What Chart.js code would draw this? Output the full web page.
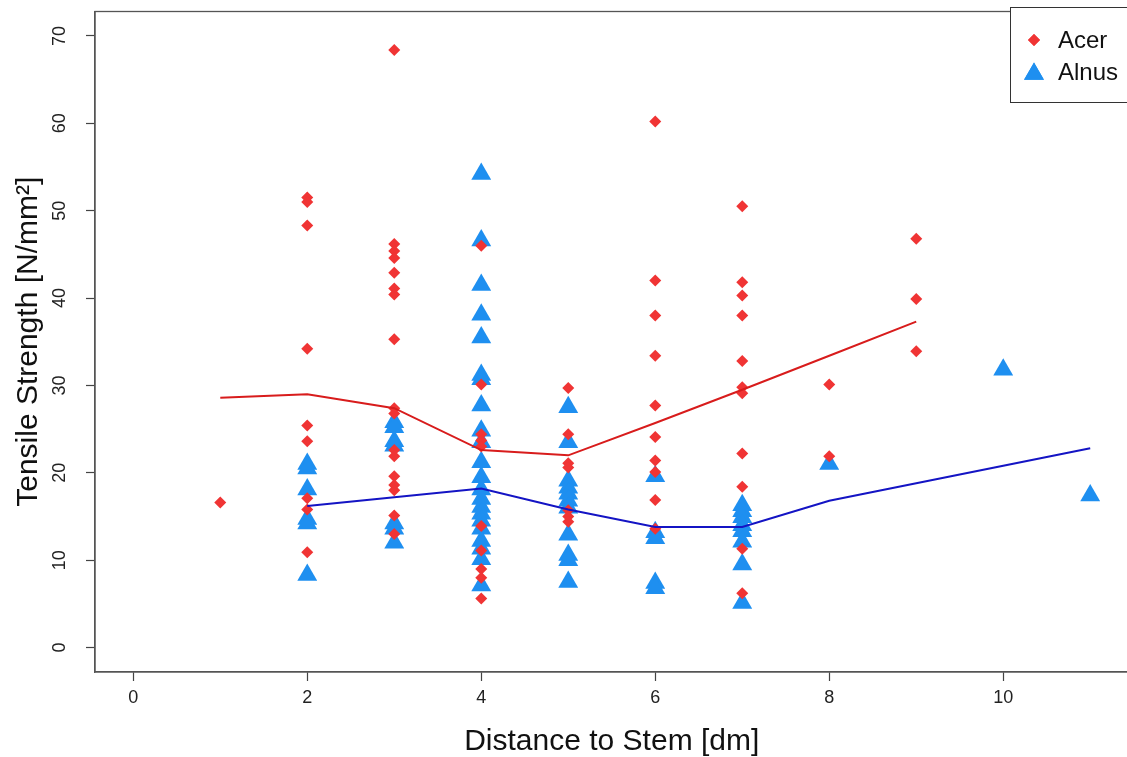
<!DOCTYPE html>
<html>
<head>
<meta charset="utf-8">
<script src="https://cdn.jsdelivr.net/npm/chart.js@4/dist/chart.umd.min.js"></script>
<style>
  html, body { margin: 0; padding: 0; background: #fff; overflow: hidden; }
</style>
</head>
<body>
<canvas id="plot" width="1140" height="757"></canvas>
<script>
// tick labels
var xTicks = [0, 2, 4, 6, 8, 10];
var yTicks = [0, 10, 20, 30, 40, 50, 60, 70];

// Acer samples: distance [dm] and strength [N/mm2]
var acerDist = [1,
  2, 2, 2, 2, 2, 2, 2, 2, 2,
  3, 3, 3, 3, 3, 3, 3, 3, 3, 3, 3, 3, 3, 3, 3, 3, 3,
  4, 4, 4, 4, 4, 4, 4, 4, 4, 4,
  5, 5, 5, 5, 5, 5, 5,
  6, 6, 6, 6, 6, 6, 6, 6, 6, 6,
  7, 7, 7, 7, 7, 7, 7, 7, 7, 7, 7,
  8, 8,
  9, 9, 9];
var acerStrength = [16.6,
  51.5, 51.0, 48.3, 34.2, 25.4, 23.6, 17.1, 15.8, 10.9,
  68.4, 46.2, 45.4, 44.6, 42.9, 41.1, 40.4, 35.3, 27.4, 26.8, 22.6, 21.9, 19.6, 18.6, 18.0, 15.1, 13.0,
  46.0, 30.1, 24.4, 23.7, 23.0, 13.9, 11.1, 9.0, 8.0, 5.6,
  29.7, 24.4, 21.1, 20.6, 15.7, 15.0, 14.4,
  60.2, 42.0, 38.0, 33.4, 27.7, 24.1, 21.4, 20.1, 16.9, 13.6,
  50.5, 41.8, 40.3, 38.0, 32.8, 29.8, 29.1, 22.2, 18.4, 11.3, 6.2,
  30.1, 21.9,
  46.8, 39.9, 33.9];

// Alnus samples
var alnusDist = [
  2, 2, 2, 2, 2, 2,
  3, 3, 3, 3, 3, 3, 3,
  4, 4, 4, 4, 4, 4, 4, 4, 4, 4, 4, 4, 4, 4, 4, 4, 4, 4, 4, 4, 4, 4,
  5, 5, 5, 5, 5, 5, 5, 5, 5, 5, 5,
  6, 6, 6, 6, 6,
  7, 7, 7, 7, 7, 7, 7, 7,
  8, 10, 11];
var alnusStrength = [
  21.0, 20.5, 18.1, 14.7, 14.2, 8.3,
  25.8, 25.2, 23.6, 23.1, 14.2, 13.6, 12.0,
  54.2, 46.6, 41.5, 38.1, 35.5, 31.2, 30.7, 27.7, 24.8, 23.5, 21.2, 19.5, 18.1, 17.0, 16.1, 15.3, 14.5, 13.6, 12.2, 11.3, 10.1, 7.1,
  27.5, 23.5, 19.1, 18.3, 17.6, 16.8, 16.0, 12.9, 10.6, 10.0, 7.5,
  19.6, 13.2, 12.5, 7.4, 6.8,
  16.3, 15.6, 14.9, 14.0, 13.3, 12.1, 9.5, 5.1,
  21.0, 31.8, 17.4];

// trend lines
var acerLineX = [1, 2, 3, 4, 5, 6, 7, 8, 9];
var acerLineY = [28.6, 29.0, 27.4, 22.6, 22.0, 25.7, 29.5, 33.4, 37.3];
var alnusLineX = [2, 3, 4, 5, 6, 7, 8, 10, 11];
var alnusLineY = [16.2, 17.2, 18.2, 15.8, 13.8, 13.8, 16.8, 20.8, 22.8];

function pairs(xs, ys) {
    var out = [];
    for (var i = 0; i < xs.length; i++) {
        out.push({x: xs[i], y: ys[i]});
    }
    return out;
}

var FONT = "'Liberation Sans', Arial, Helvetica, sans-serif";

// box round the plot + legend in the top right corner
var boxAndLegend = {
    id: 'boxAndLegend',
    afterDraw: function(chart) {
        var ctx = chart.ctx;
        var a = chart.chartArea;
        ctx.save();
        ctx.strokeStyle = '#555';
        ctx.lineWidth = 1.3;
        ctx.strokeRect(a.left, a.top, a.right - a.left, a.bottom - a.top);

        // legend
        var lx = 1010, ly = 7, lw = 140, lh = 95;
        ctx.fillStyle = '#fff';
        ctx.fillRect(lx, ly, lw, lh);
        ctx.strokeStyle = '#333';
        ctx.lineWidth = 1;
        ctx.strokeRect(lx + 0.5, ly + 0.5, lw, lh);
        var items = [chart.data.datasets[2], chart.data.datasets[3]];
        var rows = [40, 72];
        ctx.font = '24px ' + FONT;
        ctx.textBaseline = 'middle';
        ctx.textAlign = 'left';
        for (var i = 0; i < items.length; i++) {
            var ds = items[i];
            ctx.fillStyle = ds.backgroundColor;
            Chart.helpers.drawPoint(ctx, {
                pointStyle: ds.pointStyle,
                radius: ds.pointRadius,
                borderWidth: 0,
                rotation: 0
            }, 1034, rows[i] + (ds.pointStyle === 'triangle' ? 2 : 0));
            ctx.fill();
            ctx.fillStyle = '#111';
            ctx.fillText(ds.label, 1058, rows[i] + 1);
        }
        ctx.restore();
    }
};

function noPad(scale) {
    scale.paddingTop = 0;
    scale.paddingBottom = 0;
    scale.paddingLeft = 0;
    scale.paddingRight = 0;
}

new Chart(document.getElementById('plot'), {
    type: 'scatter',
    data: {
        datasets: [{
            label: 'Acer trend',
            data: pairs(acerLineX, acerLineY),
            showLine: true,
            borderColor: '#d81c1c',
            borderWidth: 2,
            pointRadius: 0,
            fill: false
        }, {
            label: 'Alnus trend',
            data: pairs(alnusLineX, alnusLineY),
            showLine: true,
            borderColor: '#1414c4',
            borderWidth: 2,
            pointRadius: 0,
            fill: false
        }, {
            label: 'Acer',
            data: pairs(acerDist, acerStrength),
            pointStyle: 'rectRot',
            pointRadius: 6,
            backgroundColor: '#f03434',
            borderWidth: 0
        }, {
            label: 'Alnus',
            data: pairs(alnusDist, alnusStrength),
            pointStyle: 'triangle',
            pointRadius: 11.5,
            backgroundColor: '#1e8ff0',
            borderWidth: 0
        }]
    },
    options: {
        responsive: false,
        animation: false,
        events: [],
        layout: { padding: { top: 8.5, right: 5, left: 0, bottom: 0 } },
        plugins: {
            legend: { display: false },
            tooltip: { enabled: false }
        },
        scales: {
            x: {
                type: 'linear',
                min: -0.44,
                max: 11.44,
                afterBuildTicks: function(scale) {
                    scale.ticks = xTicks.map(function(v) { return {value: v}; });
                },
                afterFit: function(scale) { scale.height = 85; noPad(scale); },
                grid: {
                    drawOnChartArea: false,
                    drawTicks: true,
                    tickLength: 9,
                    tickColor: '#444',
                    tickWidth: 1.2
                },
                border: { display: true, color: '#555', width: 1.3 },
                ticks: {
                    padding: 6,
                    color: '#222',
                    font: { family: FONT, size: 18 },
                    maxRotation: 0,
                    autoSkip: false
                },
                title: {
                    display: true,
                    text: 'Distance to Stem [dm]',
                    color: '#111',
                    font: { family: FONT, size: 30, lineHeight: 1.0 },
                    padding: { top: 6, bottom: 0 }
                }
            },
            y: {
                type: 'linear',
                min: -2.8,
                max: 72.8,
                afterBuildTicks: function(scale) {
                    scale.ticks = yTicks.map(function(v) { return {value: v}; });
                },
                afterFit: function(scale) { scale.width = 95; noPad(scale); },
                grid: {
                    drawOnChartArea: false,
                    drawTicks: true,
                    tickLength: 9,
                    tickColor: '#444',
                    tickWidth: 1.2
                },
                border: { display: true, color: '#555', width: 1.3 },
                ticks: {
                    padding: 16,
                    color: '#222',
                    font: { family: FONT, size: 18 },
                    minRotation: 90,
                    maxRotation: 90,
                    crossAlign: 'center',
                    autoSkip: false
                },
                title: {
                    display: true,
                    text: 'Tensile Strength [N/mm²]',
                    color: '#111',
                    font: { family: FONT, size: 30, lineHeight: 1.0 },
                    padding: { top: 14, bottom: 0 }
                }
            }
        }
    },
    plugins: [boxAndLegend]
});
</script>
</body>
</html>
